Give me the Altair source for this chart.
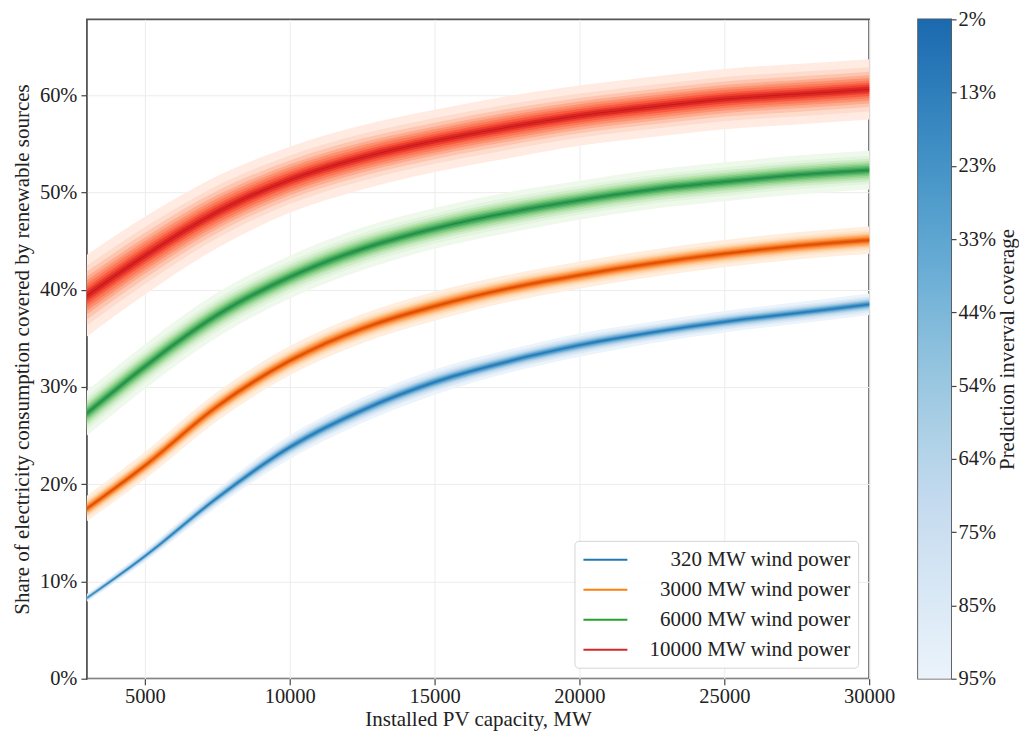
import altair as alt
import pandas as pd

# ---------------- data ----------------
X_PV = [3000, 5000, 7500, 10000, 12500, 15000, 17500, 20000, 22500, 25000, 27500, 30000]

SERIES = ["320 MW wind power", "3000 MW wind power", "6000 MW wind power", "10000 MW wind power"]

MID_320 = [8.3, 12.6, 18.6, 23.8, 27.6, 30.5, 32.6, 34.3, 35.6, 36.7, 37.6, 38.5]
MID_3000 = [17.5, 21.9, 28.0, 32.7, 36.0, 38.3, 40.1, 41.5, 42.7, 43.7, 44.5, 45.1]
MID_6000 = [27.3, 32.1, 37.4, 41.3, 44.2, 46.3, 47.9, 49.2, 50.3, 51.1, 51.8, 52.3]
MID_10000 = [39.4, 43.5, 48.0, 51.3, 53.6, 55.3, 56.7, 57.9, 58.8, 59.6, 60.1, 60.6]

# half width of the 95% prediction interval (percentage points)
HW_320 = [0.4, 0.6, 0.9, 1.2, 1.3, 1.3, 1.2, 1.2, 1.1, 1.1, 1.1, 1.1]
HW_3000 = [1.3, 1.4, 1.5, 1.5, 1.5, 1.5, 1.4, 1.4, 1.4, 1.4, 1.4, 1.4]
HW_6000 = [2.3, 2.3, 2.3, 2.2, 2.2, 2.1, 2.1, 2.0, 2.0, 2.0, 2.0, 2.0]
HW_10000 = [4.2, 4.0, 3.7, 3.4, 3.3, 3.2, 3.2, 3.1, 3.1, 3.1, 3.1, 3.1]

# prediction interval coverage levels and their normal quantiles
COVERAGE = [0.02, 0.13, 0.23, 0.33, 0.44, 0.54, 0.64, 0.75, 0.85, 0.95]
Z_LEVEL = [0.025, 0.164, 0.292, 0.426, 0.583, 0.739, 0.915, 1.150, 1.440, 1.960]
CBAR_LABELS = ["2%", "13%", "23%", "33%", "44%", "54%", "64%", "75%", "85%", "95%"]

# ---------------- styles ----------------
FONT = "Liberation Serif"
LINE_COLORS = ["#1f77b4", "#ff7f0e", "#2ca02c", "#d62728"]
SCHEMES = {
    "blues": ["#f7fbff", "#deebf7", "#c6dbef", "#9ecae1", "#6baed6", "#4292c6", "#2171b5", "#08519c", "#08306b"],
    "oranges": ["#fff5eb", "#fee6ce", "#fdd0a2", "#fdae6b", "#fd8d3c", "#f16913", "#d94801", "#a63603", "#7f2704"],
    "greens": ["#f7fcf5", "#e5f5e0", "#c7e9c0", "#a1d99b", "#74c476", "#41ab5d", "#238b45", "#006d2c", "#00441b"],
    "reds": ["#fff5f0", "#fee0d2", "#fcbba1", "#fc9272", "#fb6a4a", "#ef3b2c", "#cb181d", "#a50f15", "#67000d"],
}
SERIES_SCHEME = ["blues", "oranges", "greens", "reds"]


def interp_color(stops, t):
    t = min(max(t, 0.0), 1.0)
    pos = t * (len(stops) - 1)
    i = min(int(pos), len(stops) - 2)
    f = pos - i
    a = stops[i].lstrip("#")
    b = stops[i + 1].lstrip("#")
    ca = [int(a[j:j + 2], 16) for j in (0, 2, 4)]
    cb = [int(b[j:j + 2], 16) for j in (0, 2, 4)]
    c = [round(ca[k] + (cb[k] - ca[k]) * f) for k in range(3)]
    return "#%02x%02x%02x" % tuple(c)


T_TOP, T_BOTTOM = 0.78, 0.06


def cov_to_t(c):
    return T_BOTTOM + (T_TOP - T_BOTTOM) * (COVERAGE[-1] - c) / (COVERAGE[-1] - COVERAGE[0])


mids = [MID_320, MID_3000, MID_6000, MID_10000]
hws = [HW_320, HW_3000, HW_6000, HW_10000]

line_rows = []
band_rows = []
for s, name in enumerate(SERIES):
    for i, x in enumerate(X_PV):
        line_rows.append({"series": name, "pv": x, "share": mids[s][i] / 100})
        for k, c in enumerate(COVERAGE):
            half = hws[s][i] * Z_LEVEL[k] / Z_LEVEL[-1]
            band_rows.append({
                "series": name, "pv": x, "level": k,
                "lo": (mids[s][i] - half) / 100,
                "hi": (mids[s][i] + half) / 100,
                "color": interp_color(SCHEMES[SERIES_SCHEME[s]], cov_to_t(c)),
            })

df_line = pd.DataFrame(line_rows)
df_band = pd.DataFrame(band_rows)

W, H = 783, 660
Y_MAX = 0.678

x_enc = alt.X(
    "pv:Q",
    scale=alt.Scale(domain=[3000, 30000], nice=False, zero=False),
    axis=alt.Axis(
        title="Installed PV capacity, MW",
        values=[5000, 10000, 15000, 20000, 25000, 30000],
        format="d",
        grid=True,
        labelFlush=False,
        labelPadding=2,
        titlePadding=1,
    ),
)

line_layer = alt.Chart(df_line).mark_line(strokeWidth=1.6, interpolate="monotone").encode(
    x=x_enc,
    y=alt.Y(
        "share:Q",
        scale=alt.Scale(domain=[0, Y_MAX], nice=False),
        axis=alt.Axis(
            title="Share of electricity consumption covered by renewable sources",
            values=[0, 0.1, 0.2, 0.3, 0.4, 0.5, 0.6],
            format=".0%",
            grid=True,
            labelFlush=False,
            labelPadding=4,
            titlePadding=7,
        ),
    ),
    stroke=alt.Stroke(
        "series:N",
        scale=alt.Scale(domain=SERIES, range=LINE_COLORS),
        sort=SERIES,
        legend=alt.Legend(
            title=None,
            orient="bottom-right",
            offset=11,
            symbolType="M-2.2,0H2.2",
            symbolSize=400,
            symbolStrokeWidth=2,
            symbolOffset=12,
            labelAlign="right",
            labelOffset=234,
            labelFont=FONT,
            labelFontSize=21,
            labelColor="#222222",
            labelLimit=400,
            rowPadding=9,
            padding=8,
            fillColor="rgba(255,255,255,0.85)",
            strokeColor="#d4d4d4",
            cornerRadius=4,
        ),
    ),
)

band_layers = []
for k in reversed(range(len(COVERAGE))):
    band_layers.append(
        alt.Chart(df_band[df_band["level"] == k]).mark_area(interpolate="monotone").encode(
            x=alt.X("pv:Q"),
            y=alt.Y("lo:Q"),
            y2=alt.Y2("hi:Q"),
            fill=alt.Fill("color:N", scale=None),
            detail="series:N",
        )
    )

main = alt.layer(line_layer, *band_layers).properties(width=W, height=H)

# ---------------- colorbar ----------------
cb_stops = [
    alt.GradientStop(color=interp_color(SCHEMES["blues"], T_TOP + (T_BOTTOM - T_TOP) * j / 8), offset=j / 8)
    for j in range(9)
]
df_cb = pd.DataFrame({"lo": [0], "hi": [len(COVERAGE) - 1]})
cbar = alt.Chart(df_cb).mark_rect(
    fill=alt.Gradient(gradient="linear", stops=cb_stops, x1=0, x2=0, y1=0, y2=1)
).encode(
    x=alt.value(0),
    x2=alt.value(33),
    y=alt.Y(
        "lo:Q",
        scale=alt.Scale(domain=[0, len(COVERAGE) - 1], reverse=True, nice=False),
        axis=alt.Axis(
            orient="right",
            title="Prediction inverval coverage",
            values=list(range(len(COVERAGE))),
            labelExpr="%s[datum.value]" % str(CBAR_LABELS),
            grid=False,
            domain=False,
            labelFlush=False,
            tickSize=5,
            labelPadding=2,
            titleAngle=270,
            titleBaseline="top",
            titlePadding=1,
        ),
    ),
    y2="hi:Q",
).properties(width=33, height=H)

chart = alt.hconcat(main, cbar, spacing=49, bounds="flush").resolve_scale(
    stroke="independent", y="independent"
).resolve_legend(
    stroke="independent"
).properties(
    padding={"left": 2, "top": 0, "right": 0, "bottom": 0}
).configure_view(
    stroke="#555555", strokeWidth=1.8
).configure_axis(
    labelFont=FONT, titleFont=FONT,
    labelFontSize=20.5, titleFontSize=21,
    labelColor="#222222", titleColor="#222222",
    titleFontWeight="normal",
    domain=False,
    tickColor="#444444", tickSize=6, tickWidth=1.2,
    gridColor="#ececec", gridWidth=1,
)

chart.save("out.html", embed_options={"renderer": "svg", "actions": False})
